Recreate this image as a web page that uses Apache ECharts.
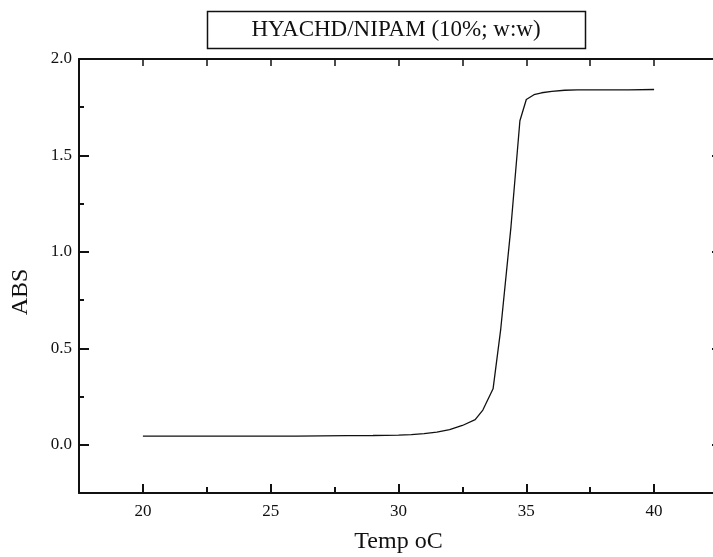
<!DOCTYPE html>
<html>
<head>
    <meta charset="utf-8">
    <title>HYACHD/NIPAM</title>
    <script src="https://cdn.jsdelivr.net/npm/echarts@6.0.0/dist/echarts.min.js"></script>
    <style>
        html, body { margin: 0; padding: 0; background: #fff; }
        #main { width: 713px; height: 557px; }
    </style>
</head>
<body>
    <div id="main"></div>
    <script>
        // data
        var temps = [20, 22, 24, 26, 27, 28, 29, 30, 30.5, 31, 31.5, 32, 32.5, 33, 33.3, 33.7, 34.0, 34.4, 34.75, 35.0, 35.3, 35.6, 36, 36.5, 37, 38, 39, 40];
        var absValues = [0.045, 0.045, 0.045, 0.045, 0.046, 0.047, 0.048, 0.050, 0.053, 0.058, 0.066, 0.078, 0.10, 0.13, 0.18, 0.29, 0.60, 1.13, 1.68, 1.79, 1.815, 1.825, 1.832, 1.838, 1.84, 1.84, 1.84, 1.842];
        var xMajor = [20, 25, 30, 35, 40];
        var xMinor = [22.5, 27.5, 32.5, 37.5];
        var yMajor = [0, 0.5, 1.0, 1.5, 2.0];
        var yMinor = [0.25, 0.75, 1.25, 1.75];

        var font = 'Liberation Serif';
        var ink = '#111';
        var xRange = { min: 17.5, max: 42.5 };
        var yRange = { min: -0.25, max: 2.0 };

        var myChart = echarts.init(document.getElementById('main'));

        var option = {
            animation: false,
            backgroundColor: '#fff',
            grid: { left: 79, width: 639, top: 59, height: 434, outerBoundsMode: 'none', containLabel: false },
            xAxis: [
                {
                    type: 'value', position: 'bottom', min: xRange.min, max: xRange.max,
                    name: 'Temp oC', nameLocation: 'middle', nameGap: 37,
                    nameTextStyle: { fontFamily: font, fontSize: 24, color: ink },
                    axisLine: { onZero: false, lineStyle: { color: ink, width: 2 } },
                    axisTick: { inside: true, length: 9, customValues: xMajor, lineStyle: { color: ink, width: 2 } },
                    axisLabel: { customValues: xMajor, margin: 10, fontFamily: font, fontSize: 17, color: ink },
                    splitLine: { show: false }
                },
                {
                    type: 'value', position: 'bottom', min: xRange.min, max: xRange.max,
                    axisLine: { show: false, onZero: false },
                    axisTick: { inside: true, length: 6, customValues: xMinor, lineStyle: { color: ink, width: 2 } },
                    axisLabel: { show: false },
                    splitLine: { show: false }
                },
                {
                    type: 'value', position: 'top', min: xRange.min, max: xRange.max,
                    axisLine: { onZero: false, lineStyle: { color: ink, width: 2 } },
                    axisTick: { inside: true, length: 7, customValues: xMajor.concat(xMinor), lineStyle: { color: ink, width: 1.5 } },
                    axisLabel: { show: false },
                    splitLine: { show: false }
                }
            ],
            yAxis: [
                {
                    type: 'value', position: 'left', min: yRange.min, max: yRange.max,
                    axisLine: { onZero: false, lineStyle: { color: ink, width: 2 } },
                    axisTick: { inside: true, length: 10, customValues: yMajor, lineStyle: { color: ink, width: 2 } },
                    axisLabel: {
                        customValues: yMajor, margin: 7, fontFamily: font, fontSize: 17, color: ink,
                        formatter: function (v) { return v.toFixed(1); }
                    },
                    splitLine: { show: false }
                },
                {
                    type: 'value', position: 'left', min: yRange.min, max: yRange.max,
                    axisLine: { show: false, onZero: false },
                    axisTick: { inside: true, length: 5, customValues: yMinor, lineStyle: { color: ink, width: 2 } },
                    axisLabel: { show: false },
                    splitLine: { show: false }
                },
                {
                    type: 'value', position: 'right', min: yRange.min, max: yRange.max,
                    axisLine: { onZero: false, lineStyle: { color: ink, width: 2 } },
                    axisTick: { inside: true, length: 6, customValues: yMajor, lineStyle: { color: ink, width: 2 } },
                    axisLabel: { show: false },
                    splitLine: { show: false }
                }
            ],
            graphic: [
                {
                    type: 'rect',
                    shape: { x: 207.5, y: 11.5, width: 378, height: 37 },
                    style: { fill: '#fff', stroke: ink, lineWidth: 1.5 }
                },
                {
                    type: 'text', x: 396, y: 30,
                    style: {
                        text: 'HYACHD/NIPAM (10%; w:w)', fontFamily: font, fontSize: 23,
                        fill: ink, align: 'center', verticalAlign: 'middle'
                    }
                },
                {
                    type: 'text', x: 21, y: 292, rotation: Math.PI / 2,
                    style: {
                        text: 'ABS', fontFamily: font, fontSize: 24,
                        fill: ink, align: 'center', verticalAlign: 'middle'
                    }
                }
            ],
            series: [{
                type: 'line',
                xAxisIndex: 0,
                yAxisIndex: 0,
                data: temps.map(function (t, i) { return [t, absValues[i]]; }),
                showSymbol: false,
                smooth: false,
                lineStyle: { color: ink, width: 1.3 }
            }]
        };

        myChart.setOption(option);
    </script>
</body>
</html>
